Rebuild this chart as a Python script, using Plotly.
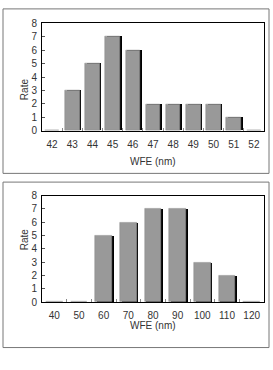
import plotly.graph_objects as go

top_cats = ["42", "43", "44", "45", "46", "47", "48", "49", "50", "51", "52"]
top_vals = [0, 3, 5, 7, 6, 2, 2, 2, 2, 1, 0]
bot_cats = ["40", "50", "60", "70", "80", "90", "100", "110", "120"]
bot_vals = [0, 0, 5, 6, 7, 7, 3, 2, 0]
y_ticks = [0, 1, 2, 3, 4, 5, 6, 7, 8]
x_title = "WFE (nm)"
y_title = "Rate"

W, H = 273, 370
def px(x): return x / W
def py(y): return 1 - y / H

FONT = "Liberation Sans, Arial, sans-serif"
fig = go.Figure()

def add_panel(cats, vals, xa, ya, width, sh):
    fig.add_trace(go.Bar(x=cats, y=vals, xaxis=xa, yaxis=ya, width=width,
                         offset=-width / 2 + sh, marker=dict(color="#000000", line=dict(width=0)),
                         hoverinfo="skip", showlegend=False))
    fig.add_trace(go.Bar(x=cats, y=vals, xaxis=xa, yaxis=ya, width=width,
                         offset=-width / 2, marker=dict(color="#999999", line=dict(color="#8a8a8a", width=0.5)),
                         showlegend=False))

add_panel(top_cats, top_vals, "x", "y", 0.72, 0.08)
add_panel(bot_cats, bot_vals, "x2", "y2", 0.68, 0.07)

axis_common = dict(showline=True, linecolor="#000000", linewidth=1, mirror=True,
                   tickfont=dict(family=FONT, size=10, color="#333333"))
xcommon = dict(type="category", tickson="boundaries", ticks="inside", ticklen=3,
               tickcolor="#888888", showgrid=False, tickangle=0, ticklabelstandoff=4, **axis_common)
ycommon = dict(range=[0, 8], tickvals=y_ticks, ticks="inside", ticklen=3,
               tickcolor="#555555", showgrid=False, zeroline=False, ticklabelstandoff=2, **axis_common)

fig.update_layout(
    width=W, height=H, autosize=False,
    margin=dict(l=0, r=0, t=0, b=0),
    paper_bgcolor="white", plot_bgcolor="white",
    barmode="overlay", bargap=0,
    xaxis=dict(domain=[px(42), px(264)], anchor="y", **xcommon),
    yaxis=dict(domain=[py(129), py(18)], anchor="x", **ycommon),
    xaxis2=dict(domain=[px(42), px(264)], anchor="y2", **xcommon),
    yaxis2=dict(domain=[py(306), py(196)], anchor="x2", **ycommon),
    font=dict(family=FONT),
    shapes=[
        dict(type="rect", xref="paper", yref="paper", x0=px(3), x1=px(269), y0=py(173), y1=py(3),
             line=dict(color="#777777", width=1)),
        dict(type="rect", xref="paper", yref="paper", x0=px(3), x1=px(269), y0=py(353), y1=py(182),
             line=dict(color="#777777", width=1)),
    ],
    annotations=[
        dict(text=x_title, xref="paper", yref="paper", x=px(153), y=py(161), showarrow=False,
             font=dict(family=FONT, size=10, color="#333333")),
        dict(text=x_title, xref="paper", yref="paper", x=px(153), y=py(338), showarrow=False,
             font=dict(family=FONT, size=10, color="#333333")),
        dict(text=y_title, xref="paper", yref="paper", x=px(17), y=py(73), showarrow=False, textangle=-90,
             font=dict(family=FONT, size=10, color="#333333")),
        dict(text=y_title, xref="paper", yref="paper", x=px(17), y=py(255), showarrow=False, textangle=-90,
             font=dict(family=FONT, size=10, color="#333333")),
    ],
)

fig.write_html("out.html", config={"displayModeBar": False},
               post_script="document.body.style.margin='0';document.body.style.overflow='hidden';")
